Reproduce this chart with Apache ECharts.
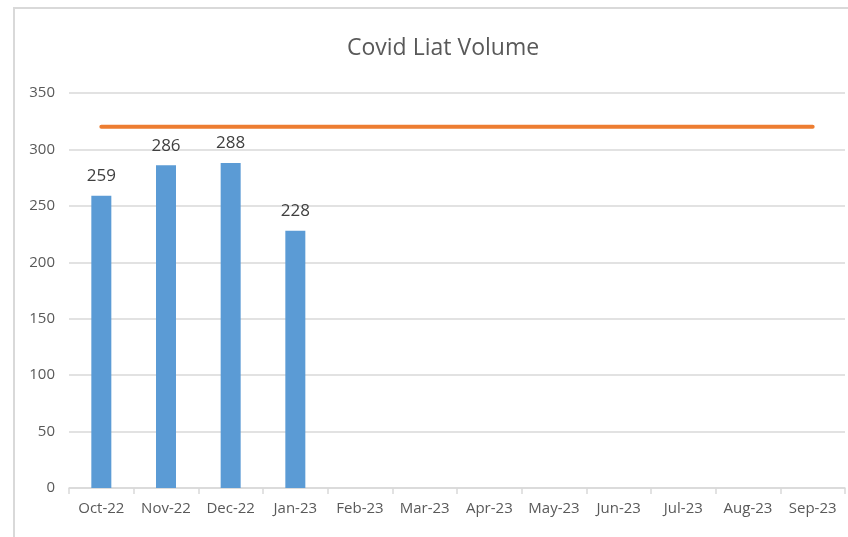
<!DOCTYPE html>
<html>
<head>
<meta charset="utf-8">
<script src="https://cdn.jsdelivr.net/npm/echarts@6/dist/echarts.min.js"></script>
<style>
html,body{margin:0;padding:0;background:#fff;}
#chart{width:848px;height:537px;}
</style>
</head>
<body>
<div id="chart"></div>
<script>
// Monthly volumes and the target line
const months = ['Oct-22','Nov-22','Dec-22','Jan-23','Feb-23','Mar-23','Apr-23','May-23','Jun-23','Jul-23','Aug-23','Sep-23'];
const volume = [259, 286, 288, 228, null, null, null, null, null, null, null, null];
const target = [320, 320, 320, 320, 320, 320, 320, 320, 320, 320, 320, 320];
const yTicks = { min: 0, max: 350, interval: 50 };

const font = '"Open Sans", sans-serif';
const chart = echarts.init(document.getElementById('chart'), null, { renderer: 'canvas' });
chart.setOption({
  backgroundColor: '#ffffff',
  animation: false,
  graphic: [{
    type: 'rect',
    shape: { x: 14, y: 8, width: 850, height: 540 },
    style: { fill: 'none', stroke: '#d9d9d9', lineWidth: 2 },
    silent: true
  }],
  title: {
    text: 'Covid Liat Volume',
    left: 342,
    top: 32,
    textStyle: { fontFamily: font, fontSize: 23, fontWeight: 'normal', color: '#595959' }
  },
  grid: { left: 69, right: 3, top: 93, bottom: 49 },
  xAxis: {
    type: 'category',
    data: months,
    axisLine: { lineStyle: { color: '#d9d9d9', width: 1.5 } },
    axisTick: { show: true, length: 6, lineStyle: { color: '#d9d9d9', width: 1.5 } },
    axisLabel: { fontFamily: font, fontSize: 15, color: '#595959', margin: 13, interval: 0 }
  },
  yAxis: {
    type: 'value',
    min: yTicks.min, max: yTicks.max, interval: yTicks.interval,
    axisLine: { show: false },
    axisTick: { show: false },
    splitLine: { lineStyle: { color: '#d9d9d9', width: 1.5 } },
    axisLabel: { fontFamily: font, fontSize: 15, color: '#595959', margin: 14 }
  },
  series: [
    {
      type: 'bar',
      data: volume,
      barWidth: 20,
      itemStyle: { color: '#5b9bd5' },
      label: {
        show: true, position: 'top', distance: 11,
        fontFamily: font, fontSize: 17, color: '#404040'
      }
    },
    {
      type: 'line',
      data: target,
      symbol: 'none',
      lineStyle: { color: '#ed7d31', width: 4, cap: 'round' },
      z: 3
    }
  ]
});
</script>
</body>
</html>
